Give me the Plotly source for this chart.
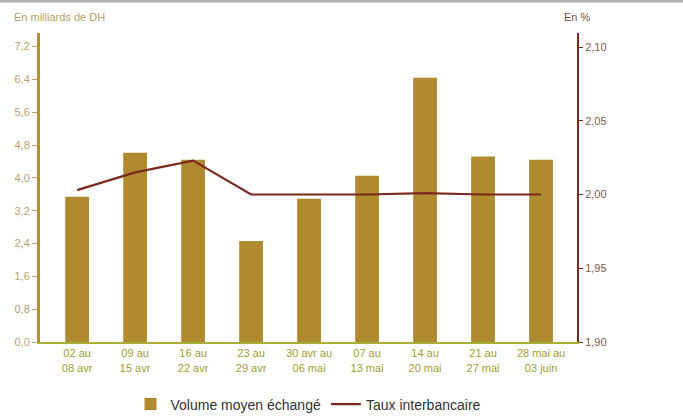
import plotly.graph_objects as go

categories = ["02 au<br>08 avr", "09 au<br>15 avr", "16 au<br>22 avr", "23 au<br>29 avr",
              "30 avr au<br>06 mai", "07 au<br>13 mai", "14 au<br>20 mai", "21 au<br>27 mai",
              "28 mai au<br>03 juin"]
volume = [3.54, 4.61, 4.44, 2.46, 3.49, 4.05, 6.44, 4.52, 4.44]
taux = [2.003, 2.015, 2.023, 2.000, 2.000, 2.000, 2.001, 2.000, 2.000]
left_ticks = [0, 0.8, 1.6, 2.4, 3.2, 4.0, 4.8, 5.6, 6.4, 7.2]
right_ticks = [1.90, 1.95, 2.00, 2.05, 2.10]

FONT = "Liberation Sans Narrow, Arial Narrow, Liberation Sans, Arial"
GOLD = "#B08A2E"
BROWN = "#7A2A1C"

fig = go.Figure()
fig.add_trace(go.Bar(x=categories, y=volume, name="Volume moyen échangé",
                     marker=dict(color=GOLD, line=dict(width=0)), width=0.41, yaxis="y"))
fig.add_trace(go.Scatter(x=categories, y=taux, name="Taux interbancaire", mode="lines",
                         line=dict(color=BROWN, width=2.2), yaxis="y2"))

fig.update_layout(
    width=683, height=417,
    margin=dict(l=40, r=106, t=33, b=75, autoexpand=False),
    paper_bgcolor="white", plot_bgcolor="white",
    separators=", ",
    font=dict(family=FONT, size=11),
    showlegend=True,
    legend=dict(orientation="h", x=0.5, xanchor="center", yref="container", y=0.03,
                yanchor="middle", font=dict(size=14, color="#333333"), traceorder="normal",
                itemwidth=30, tracegroupgap=0),
    xaxis=dict(range=[-0.64, 8.62], showgrid=False, showline=True, linecolor="#A8B03A",
               linewidth=2, tickfont=dict(color="#9AA030", size=11), ticks=""),
    yaxis=dict(range=[0, 7.53], tickvals=left_ticks, tickformat=".1f",
               showgrid=False, zeroline=False, showline=True, linecolor="#B8902A", linewidth=3,
               ticks="outside", ticklen=5, tickcolor="#B8A070",
               tickfont=dict(color="#B8A070", size=11)),
    yaxis2=dict(range=[1.90, 2.1095], tickvals=right_ticks, tickformat=".2f",
                overlaying="y", side="right", showgrid=False, zeroline=False,
                showline=True, linecolor=BROWN, linewidth=2,
                ticks="outside", ticklen=4, tickcolor=BROWN,
                tickfont=dict(color="#7A5A4A", size=11)),
    shapes=[dict(type="line", xref="paper", yref="paper", x0=-0.1, x1=1.3, y0=1.1036, y1=1.1036,
                 line=dict(color="#B0B0B0", width=3))],
    annotations=[
        dict(text="En milliards de DH", xref="paper", yref="paper", x=-0.052, y=1.052,
             xanchor="left", yanchor="middle", showarrow=False,
             font=dict(color="#B8A060", size=11)),
        dict(text="En %", xref="paper", yref="paper", x=0.972, y=1.052,
             xanchor="left", yanchor="middle", showarrow=False,
             font=dict(color="#7A4A3A", size=11)),
    ],
)

fig.write_html("out.html", config={"displayModeBar": False},
               post_script="document.body.style.margin='0';")
